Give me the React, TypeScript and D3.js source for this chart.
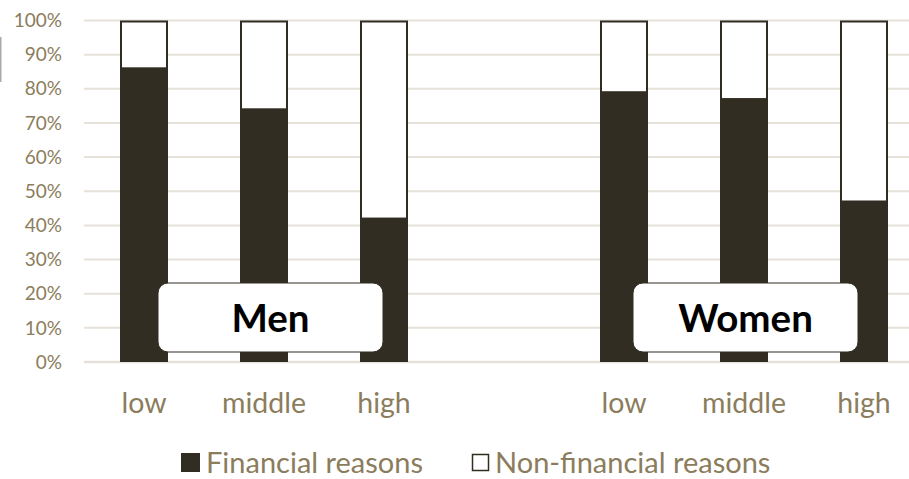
import React from "react";
import * as d3 from "d3";

// Share of respondents citing each reason, by income group
const slots = ["m-low", "m-middle", "m-high", "gap", "w-low", "w-middle", "w-high"];
const slotLabels = ["low", "middle", "high", "", "low", "middle", "high"];
const financial = [86, 74, 42, null, 79, 77, 47];
const yTicks = [0, 10, 20, 30, 40, 50, 60, 70, 80, 90, 100];
const groups = ["Men", "Women"];
const groupCenters = ["m-middle", "w-middle"];
const legendItems = ["Financial reasons", "Non-financial reasons"];

const W = 909;
const H = 479;
const DARK = "#322d22";
const TEXT = "#8b7d5c";
const GRID = "#e6e2da";
const FONT = "Lato, 'Open Sans', sans-serif";

export default function App() {
  const x = d3
    .scaleBand<string>()
    .domain(slots)
    .range([84, 924])
    .paddingInner(0.6)
    .paddingOuter(0.3);
  const y = d3.scaleLinear().domain([0, 100]).range([362, 20.5]);
  const bw = x.bandwidth();
  // label boxes sit slightly right of the middle bar
  const boxShift = [6.5, 1.5];

  return (
    <svg
      width={W}
      height={H}
      style={{ position: "absolute", left: 0, top: 0, background: "#fff" }}
    >
      <rect x={0} y={37} width={1.5} height={45} fill="#aaa" />
      {/* gridlines */}
      {yTicks.map((t) => (
        <line
          key={t}
          x1={84}
          x2={W}
          y1={y(t)}
          y2={y(t)}
          stroke={GRID}
          strokeWidth={t === 0 ? 2.5 : 2}
        />
      ))}
      {/* y tick labels */}
      {yTicks.map((t) => (
        <text
          key={"l" + t}
          x={62}
          y={y(t)}
          dy="0.35em"
          textAnchor="end"
          fontFamily={FONT}
          fontSize={19}
          fill={TEXT}
        >
          {t + "%"}
        </text>
      ))}
      {/* stacked bars */}
      {slots.map((s, i) => {
        const v = financial[i];
        if (v == null) return null;
        const bx = x(s)!;
        return (
          <g key={s}>
            <rect
              x={bx + 1}
              y={y(100) + 1}
              width={bw - 2}
              height={y(v) - y(100) - 1}
              fill="#fff"
              stroke={DARK}
              strokeWidth={2}
            />
            <rect x={bx} y={y(v)} width={bw} height={y(0) - y(v)} fill={DARK} />
          </g>
        );
      })}
      {/* category labels */}
      {slots.map((s, i) =>
        slotLabels[i] ? (
          <text
            key={"c" + s}
            x={x(s)! + bw / 2}
            y={413}
            textAnchor="middle"
            fontFamily={FONT}
            fontSize={28.5}
            fill={TEXT}
          >
            {slotLabels[i]}
          </text>
        ) : null
      )}
      {/* group labels */}
      {groups.map((g, i) => {
        const cx = x(groupCenters[i])! + bw / 2 + boxShift[i];
        return (
          <g key={g}>
            <rect
              x={cx - 112.5}
              y={283}
              width={225}
              height={69}
              rx={10}
              fill="#fff"
              stroke={DARK}
              strokeWidth={1}
            />
            <text
              x={cx}
              y={319}
              dy="0.35em"
              textAnchor="middle"
              fontFamily={FONT}
              fontWeight={700}
              fontSize={38.5}
              fill="#000"
            >
              {g}
            </text>
          </g>
        );
      })}
      {/* legend */}
      <rect x={181} y={453} width={19} height={19} fill={DARK} />
      <text x={206} y={473} fontFamily={FONT} fontSize={29} fill={TEXT}>
        {legendItems[0]}
      </text>
      <rect x={472.5} y={454.5} width={16} height={16} fill="#fff" stroke={DARK} strokeWidth={1.5} />
      <text x={495} y={473} fontFamily={FONT} fontSize={29} fill={TEXT}>
        {legendItems[1]}
      </text>
    </svg>
  );
}
